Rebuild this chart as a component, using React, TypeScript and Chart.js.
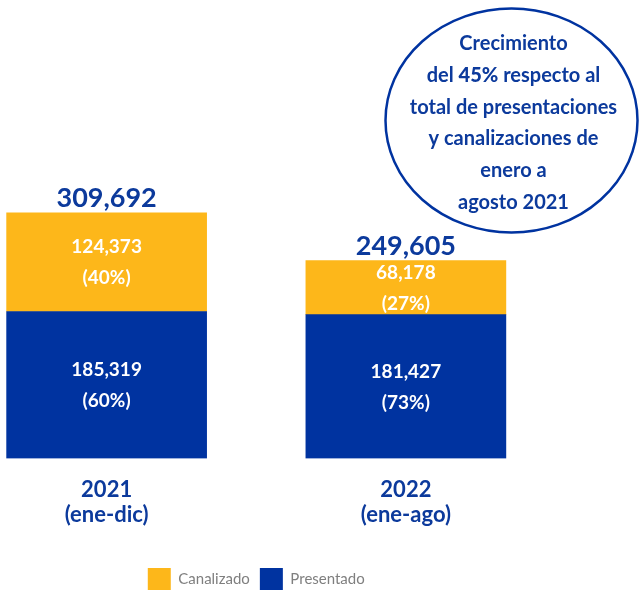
import React, { useEffect, useRef } from 'react';
import { Chart, registerables } from 'chart.js';

Chart.register(...registerables);

const categories = [['2021', '(ene-dic)'], ['2022', '(ene-ago)']];
const presentado = [185319, 181427];
const canalizado = [124373, 68178];
const seriesNames = ['Presentado', 'Canalizado'];
const yMax = 350000;

const noteLines: [string, boolean][][] = [
  [['Crecimiento', false]],
  [['del ', false], ['45%', true], [' respecto al', false]],
  [['total de presentaciones', false]],
  [['y canalizaciones de', false]],
  [['enero a', false]],
  [['agosto 2021', false]],
];

const BLUE = '#0033A0';
const YELLOW = '#FDB71A';
const TEXT_BLUE = '#0C3A9C';
const FONT = 'Lato, "Open Sans", sans-serif';

const fmt = (v: number) => v.toLocaleString('en-US');

const labelPlugin = {
  id: 'segLabels',
  afterDatasetsDraw(chart: any) {
    const ctx = chart.ctx;
    ctx.save();
    ctx.textAlign = 'center';
    ctx.textBaseline = 'middle';
    ctx.fillStyle = '#FFFFFF';
    ctx.font = `bold 19px ${FONT}`;
    chart.data.datasets.forEach((ds: any, di: number) => {
      const meta = chart.getDatasetMeta(di);
      meta.data.forEach((bar: any, i: number) => {
        const { x, y, base } = bar.getProps(['x', 'y', 'base'], true);
        const cy = (y + base) / 2;
        const v = ds.data[i];
        const total = presentado[i] + canalizado[i];
        ctx.fillText(fmt(v), x, cy - 15);
        ctx.fillText(`(${Math.round((v / total) * 100)}%)`, x, cy + 16);
      });
    });
    const topMeta = chart.getDatasetMeta(chart.data.datasets.length - 1);
    ctx.fillStyle = TEXT_BLUE;
    ctx.font = `bold 27px ${FONT}`;
    ctx.textBaseline = 'alphabetic';
    topMeta.data.forEach((bar: any, i: number) => {
      const { x, y } = bar.getProps(['x', 'y'], true);
      ctx.fillText(fmt(presentado[i] + canalizado[i]), x, y - 6);
    });
    ctx.restore();
  },
};

const notePlugin = {
  id: 'note',
  afterDraw(chart: any) {
    const ctx = chart.ctx;
    const cx = chart.width - 127.5;
    const cy = 120.5;
    ctx.save();
    ctx.beginPath();
    ctx.ellipse(cx, cy, 126, 112, 0, 0, Math.PI * 2);
    ctx.lineWidth = 2.5;
    ctx.strokeStyle = BLUE;
    ctx.stroke();
    ctx.fillStyle = TEXT_BLUE;
    ctx.textBaseline = 'middle';
    ctx.textAlign = 'left';
    const normal = `bold 20px ${FONT}`;
    const heavy = `900 20px ${FONT}`;
    noteLines.forEach((line, li) => {
      let w = 0;
      line.forEach(([t, b]) => {
        ctx.font = b ? heavy : normal;
        w += ctx.measureText(t).width;
      });
      let x = cx + 2 - w / 2;
      const y = 43.5 + li * 31.8;
      line.forEach(([t, b]) => {
        ctx.font = b ? heavy : normal;
        ctx.fillText(t, x, y);
        x += ctx.measureText(t).width;
      });
    });
    ctx.restore();
  },
};

export default function App() {
  const ref = useRef<HTMLCanvasElement>(null);
  useEffect(() => {
    if (!ref.current) return;
    const chart = new Chart(ref.current, {
      type: 'bar',
      data: {
        labels: categories,
        datasets: [
          { label: seriesNames[0], data: presentado, backgroundColor: BLUE, barThickness: 200 },
          { label: seriesNames[1], data: canalizado, backgroundColor: YELLOW, barThickness: 200 },
        ],
      },
      options: {
        responsive: false,
        animation: false,
        layout: { padding: { top: 181, bottom: -10, left: 0, right: 83.5 } },
        scales: {
          x: {
            stacked: true,
            grid: { display: false },
            border: { display: false },
            ticks: {
              color: TEXT_BLUE,
              font: { family: FONT, size: 22, weight: 'bold', lineHeight: 1.15 },
              padding: 11,
              maxRotation: 0,
            },
            afterFit: (scale: any) => {
              scale.height += 19;
            },
          },
          y: { stacked: true, display: false, min: 0, max: yMax },
        },
        plugins: {
          legend: {
            position: 'bottom',
            reverse: true,
            labels: {
              boxWidth: 23,
              boxHeight: 22,
              padding: 10,
              color: '#7F7F7F',
              font: { family: FONT, size: 15 },
            },
          },
          tooltip: { enabled: false },
        },
      },
      plugins: [labelPlugin, notePlugin],
    });
    return () => chart.destroy();
  }, []);
  return (
    <div style={{ position: 'absolute', left: 0, top: 0, width: 639, height: 590, overflow: 'hidden', background: '#fff' }}>
      <canvas ref={ref} width={682} height={590} style={{ position: 'absolute', left: -43, top: 0 }} />
    </div>
  );
}
